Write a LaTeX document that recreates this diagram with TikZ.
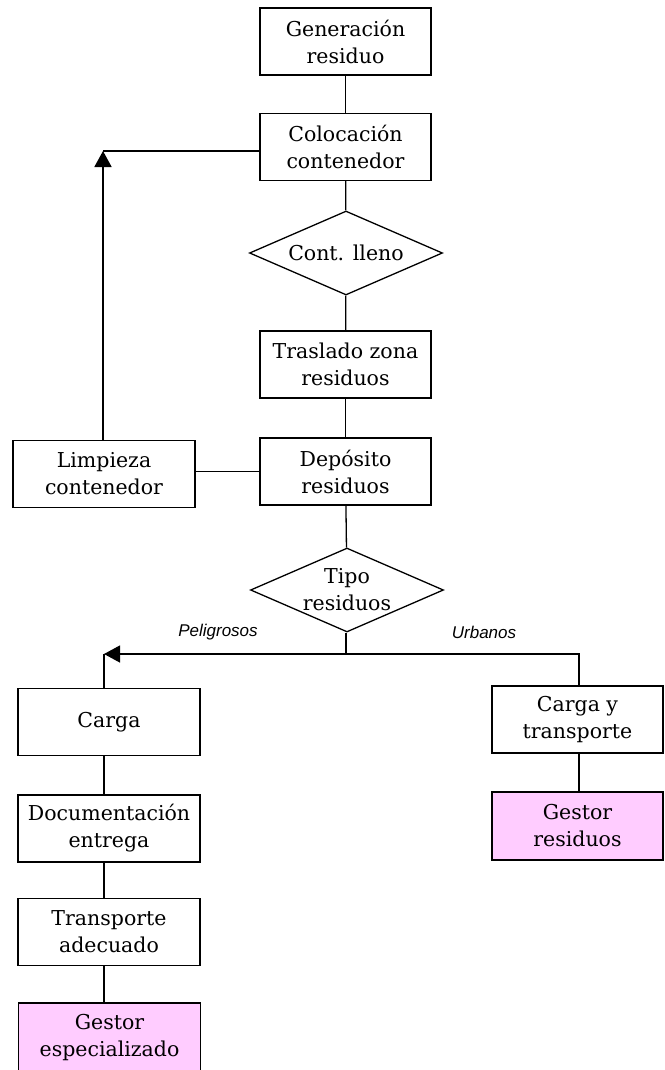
\documentclass[tikz,border=0pt]{standalone}
\usepackage{fontspec}
\setmainfont{DejaVu Serif}
\newfontfamily\branchfont{Liberation Sans}
\usetikzlibrary{shapes.geometric,arrows.meta}
\definecolor{gestorpink}{HTML}{FFCCFF}
\begin{document}
\begin{tikzpicture}[x=1pt,y=-1pt,
  every node/.style={font=\fontsize{20.5}{27}\selectfont},
  box/.style={draw, line width=1.3pt, align=center, inner sep=0pt,
    minimum width=171pt, minimum height=67pt},
  widebox/.style={box, minimum width=182pt},
  gestor/.style={fill=gestorpink},
  decision/.style={draw, diamond, line width=1.3pt, align=center,
    inner xsep=0pt, inner ysep=-12pt, aspect=2.3,
    minimum width=193pt, minimum height=84pt},
  link/.style={line width=1.3pt},
  arrowlink/.style={line width=1.8pt, -{Triangle[length=16pt,width=17pt]}},
  branch/.style={font=\branchfont\itshape\fontsize{17}{19}\selectfont}]
\useasboundingbox (0,0) rectangle (664,1070);

% main column
\node[box] (gen)  at (345.5,41.5)  {Generación\\residuo};
\node[box] (col)  at (345.5,147)   {Colocación\\contenedor};
\node[decision] (cont) at (346,253) {Cont. lleno};
\node[box] (tras) at (345.5,364.5) {Traslado zona\\residuos};
\node[box] (dep)  at (345.5,471.5) {Depósito\\residuos};
\node[widebox] (lim) at (104,474)  {Limpieza\\contenedor};
\node[decision] (tipo) at (347,590) {Tipo\\residuos};

% hazardous branch
\node[widebox] (carga)  at (109,722)   {Carga};
\node[widebox] (doc)    at (109,828.5) {Documentación\\entrega};
\node[widebox] (transp) at (109,932)   {Transporte\\adecuado};
\node[widebox, gestor, minimum height=70pt] (gesp) at (109.5,1038) {Gestor\\especializado};

% urban branch
\node[box] (cargat) at (577.5,719.5) {Carga y\\transporte};
\node[box, gestor, minimum height=68pt] (gres) at (577.5,826) {Gestor\\residuos};

\coordinate (ret)   at (103,151);
\coordinate (split) at (346,654);
\coordinate (pel)   at (104,654);
\coordinate (urb)   at (579,654);

\draw[link] (gen) -- (col);
\draw[link] (col) -- (cont);
\draw[link] (cont) -- (tras);
\draw[link] (tras) -- (dep);
\draw[link] (dep.west) -- (dep.west -| lim.east);
\draw[link] (dep) -- (tipo);
\draw[link] (col.west |- ret) -- (ret);
\draw[arrowlink] (lim.north -| ret) -- (ret);

\draw[link] (tipo.south -| split) -- (split);
\draw[link] (split) -- (urb) -- (cargat.north -| urb);
\draw[arrowlink, line width=1.3pt] (split) -- (pel);
\draw[link] (carga.north -| pel) -- (pel);
\draw[link] (carga.south -| pel) -- (doc.north -| pel);
\draw[link] (doc.south -| pel) -- (transp.north -| pel);
\draw[link] (transp.south -| pel) -- (gesp.north -| pel);
\draw[link] (cargat.south -| urb) -- (gres.north -| urb);

\node[branch] (lpel) at (218,632) {Peligrosos};
\node[branch] (lurb) at (484,632) {Urbanos};
\end{tikzpicture}
\end{document}
